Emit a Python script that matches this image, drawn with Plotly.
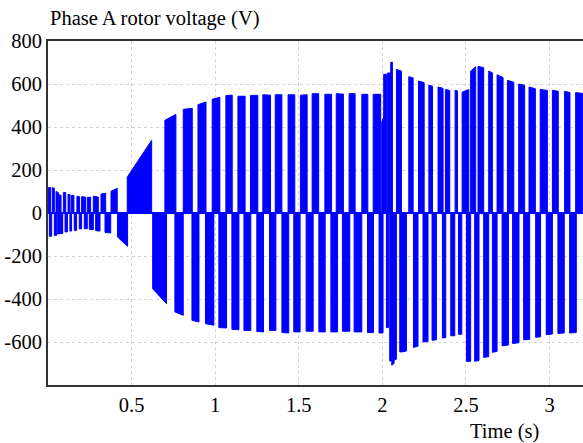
import plotly.graph_objects as go

# Positive PWM burst envelopes: start time (s), end time (s), start value (V), end value (V)
pos_t0 = [0.002, 0.026, 0.048, 0.066, 0.092, 0.120, 0.141, 0.173, 0.201, 0.235, 0.271, 0.317, 0.377,
          0.474, 0.699, 0.809, 0.897, 0.982, 1.064, 1.136, 1.211, 1.285, 1.359, 1.436, 1.510, 1.580,
          1.656, 1.724, 1.801, 1.877, 1.945, 1.996, 2.008, 2.030, 2.050, 2.084, 2.158, 2.216, 2.278,
          2.333, 2.377, 2.435, 2.477, 2.528, 2.572, 2.636, 2.686, 2.748, 2.815, 2.877, 2.944, 3.017,
          3.090, 3.156]
pos_t1 = [0.016, 0.038, 0.062, 0.078, 0.106, 0.132, 0.155, 0.189, 0.225, 0.255, 0.301, 0.345, 0.414,
          0.620, 0.765, 0.863, 0.945, 1.028, 1.102, 1.179, 1.255, 1.331, 1.399, 1.476, 1.550, 1.619,
          1.696, 1.767, 1.837, 1.913, 1.990, 2.008, 2.024, 2.048, 2.060, 2.114, 2.184, 2.250, 2.300,
          2.363, 2.403, 2.449, 2.517, 2.558, 2.606, 2.658, 2.722, 2.786, 2.851, 2.915, 2.987, 3.052,
          3.122, 3.198]
pos_v0 = [118, 118, 100, 85, 95, 87, 82, 78, 76, 73, 78, 88, 101,
          167, 431, 482, 504, 529, 546, 543, 547, 550, 550, 550, 548, 555,
          552, 555, 555, 552, 552, 423, 645, 651, 701, 668, 634, 614, 594,
          586, 575, 571, 562, 660, 682, 660, 643, 617, 600, 586, 575, 571,
          566, 560]
pos_v1 = [118, 115, 95, 82, 95, 85, 82, 76, 74, 73, 74, 92, 115,
          338, 459, 487, 516, 538, 548, 543, 547, 548, 550, 550, 550, 555,
          552, 553, 555, 552, 552, 446, 645, 651, 701, 660, 628, 606, 590,
          580, 570, 568, 574, 680, 676, 652, 630, 608, 594, 578, 570, 566,
          560, 556]

# Negative PWM burst envelopes
neg_t0 = [0.008, 0.038, 0.058, 0.076, 0.102, 0.131, 0.157, 0.187, 0.217, 0.247, 0.285, 0.341, 0.416,
          0.626, 0.759, 0.861, 0.942, 1.022, 1.100, 1.172, 1.249, 1.325, 1.399, 1.470, 1.544, 1.620,
          1.692, 1.761, 1.831, 1.911, 1.980, 2.024, 2.044, 2.056, 2.070, 2.104, 2.120, 2.186, 2.243,
          2.297, 2.359, 2.409, 2.455, 2.503, 2.552, 2.606, 2.658, 2.716, 2.779, 2.845, 2.917, 2.980,
          3.050, 3.120]
neg_t1 = [0.022, 0.052, 0.072, 0.088, 0.116, 0.141, 0.171, 0.201, 0.235, 0.271, 0.311, 0.375, 0.476,
          0.709, 0.809, 0.903, 0.992, 1.068, 1.142, 1.213, 1.289, 1.363, 1.440, 1.508, 1.586, 1.658,
          1.732, 1.805, 1.877, 1.947, 2.004, 2.038, 2.056, 2.070, 2.084, 2.120, 2.144, 2.213, 2.273,
          2.323, 2.379, 2.433, 2.475, 2.528, 2.578, 2.636, 2.686, 2.754, 2.817, 2.881, 2.946, 3.017,
          3.088, 3.160]
neg_v0 = [-108, -104, -98, -96, -88, -84, -81, -74, -73, -76, -82, -90, -112,
          -352, -460, -499, -515, -533, -541, -546, -551, -546, -556, -553, -550, -553,
          -553, -550, -553, -556, -558, -533, -688, -708, -685, -646, -646, -625, -600,
          -592, -581, -571, -564, -690, -690, -672, -648, -618, -607, -590, -578, -566,
          -560, -558]
neg_v1 = [-108, -104, -96, -96, -88, -84, -81, -73, -73, -78, -84, -93, -155,
          -422, -476, -507, -522, -535, -543, -546, -553, -546, -558, -553, -550, -553,
          -553, -550, -553, -556, -558, -533, -688, -700, -680, -646, -642, -620, -598,
          -590, -580, -571, -564, -690, -686, -668, -644, -614, -603, -588, -576, -563,
          -558, -556]

x_ticks = [0.5, 1, 1.5, 2, 2.5, 3]
x_ticktext = ["0.5", "1", "1.5", "2", "2.5", "3"]
y_ticks = [-600, -400, -200, 0, 200, 400, 600, 800]
y_ticktext = ["-600", "-400", "-200", "0", "200", "400", "600", "800"]
t_range = [0, 3.2]


def burst_polys(t0s, t1s, v0s, v1s):
    xs, ys = [], []
    for a, b, va, vb in zip(t0s, t1s, v0s, v1s):
        xs += [a, a, b, b, a, None]
        ys += [0, va, vb, 0, 0, None]
    return xs, ys


px_, py_ = burst_polys(pos_t0, pos_t1, pos_v0, pos_v1)
nx_, ny_ = burst_polys(neg_t0, neg_t1, neg_v0, neg_v1)

BLUE = "#0000ff"
fig = go.Figure()
fig.add_trace(go.Scatter(x=px_, y=py_, mode="lines", fill="toself", fillcolor=BLUE,
                         line=dict(color=BLUE, width=1), hoverinfo="skip", showlegend=False))
fig.add_trace(go.Scatter(x=nx_, y=ny_, mode="lines", fill="toself", fillcolor=BLUE,
                         line=dict(color=BLUE, width=1), hoverinfo="skip", showlegend=False))
fig.add_trace(go.Scatter(x=t_range, y=[0, 0], mode="lines",
                         line=dict(color=BLUE, width=2), hoverinfo="skip", showlegend=False))

FONT = "Liberation Serif"
fig.update_layout(
    width=583, height=443,
    margin=dict(l=48, r=0, t=41, b=58),
    paper_bgcolor="white", plot_bgcolor="white",
    font=dict(family=FONT, size=20.5, color="black"),
    xaxis=dict(range=t_range, tickmode="array", tickvals=x_ticks, ticktext=x_ticktext,
               showgrid=True, gridcolor="#d4d4d4", griddash="dot", gridwidth=1,
               showline=True, linecolor="#333333", linewidth=2, mirror=True, automargin=False,
               ticks="", zeroline=False, tickfont=dict(family=FONT, size=20.5, color="black")),
    yaxis=dict(range=[-800, 800], tickmode="array", tickvals=y_ticks, ticktext=y_ticktext,
               showgrid=True, gridcolor="#d4d4d4", griddash="dot", gridwidth=1,
               showline=True, linecolor="#333333", linewidth=2, mirror=False, automargin=False,
               ticks="", zeroline=False, tickfont=dict(family=FONT, size=20.5, color="black")),
    annotations=[
        dict(text="Phase A rotor voltage (V)", xref="paper", yref="paper", x=0, y=1.0 + 22 / 344,
             xanchor="left", yanchor="middle", showarrow=False,
             font=dict(family=FONT, size=20.5, color="black")),
        dict(text="Time (s)", xref="paper", yref="paper", x=(504.5 - 48) / 535, y=-46 / 344,
             xanchor="center", yanchor="middle", showarrow=False,
             font=dict(family=FONT, size=20.5, color="black")),
    ],
)

fig.write_html("out.html", config={"displayModeBar": False},
               post_script="document.body.style.margin='0';document.body.style.overflow='hidden';")
